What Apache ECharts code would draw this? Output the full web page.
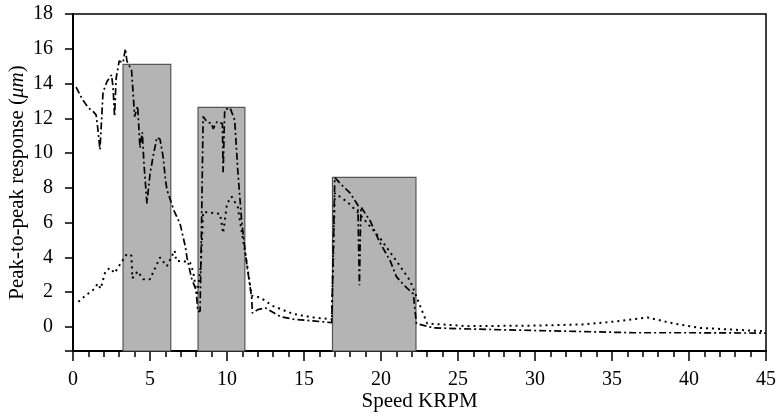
<!DOCTYPE html>
<html><head><meta charset="utf-8">
<script src="https://cdn.jsdelivr.net/npm/echarts@6/dist/echarts.min.js"></script>
<style>html,body{margin:0;padding:0;background:#fff}#c{width:776px;height:420px}</style>
</head><body><div id="c"></div>
<script>
// Speed (KRPM) vs peak-to-peak response (um)
const responseDashDot = [[0.2,13.8],[0.6,13.1],[1.0,12.6],[1.3,12.4],[1.5,12.2],[1.6,11.5],[1.75,10.2],[1.85,11.8],[1.95,13.5],[2.2,14.1],[2.5,14.5],[2.6,13.8],[2.7,12.1],[2.8,14.3],[3.0,15.3],[3.25,15.2],[3.4,16.0],[3.5,15.3],[3.6,15.1],[3.8,14.8],[3.9,13.5],[4.0,12.1],[4.2,12.7],[4.35,10.3],[4.5,11.2],[4.6,9.5],[4.8,7.1],[5.0,8.8],[5.2,9.8],[5.45,10.9],[5.65,10.8],[5.85,9.8],[6.0,8.5],[6.1,7.9],[6.4,7.1],[6.6,6.6],[6.95,5.95],[7.3,4.6],[7.4,4.0],[7.7,2.8],[8.0,2.1],[8.1,0.9],[8.25,0.9],[8.35,6.0],[8.45,12.1],[8.7,11.8],[9.0,11.7],[9.1,11.4],[9.35,11.8],[9.7,11.7],[9.75,8.9],[9.85,12.5],[10.2,12.6],[10.5,11.9],[10.7,9.0],[10.95,6.1],[11.2,4.2],[11.35,3.2],[11.6,1.7],[11.65,0.8],[12.0,1.0],[12.5,1.1],[13.45,0.6],[14.3,0.45],[15.6,0.35],[16.8,0.25],[17.0,8.6],[17.35,8.25],[18.0,7.7],[18.5,7.0],[18.55,4.5],[18.6,2.4],[18.65,5.0],[18.7,6.9],[18.85,6.7],[19.3,6.1],[19.9,4.9],[20.6,3.8],[21.0,2.9],[21.5,2.4],[22.1,1.9],[22.3,0.2],[23.4,-0.05],[26,-0.12],[29.9,-0.2],[33,-0.26],[36.4,-0.33],[40,-0.33],[45,-0.35]];
const responseDotted = [[0.35,1.45],[0.8,1.8],[1.4,2.2],[1.6,2.5],[1.8,2.2],[2.1,3.2],[2.4,3.4],[2.7,3.1],[3.05,3.6],[3.5,4.2],[3.8,4.1],[3.85,2.8],[4.2,3.2],[4.55,2.75],[5.0,2.75],[5.65,4.0],[6.1,3.5],[6.6,4.4],[6.7,3.8],[7.1,3.8],[7.6,3.7],[7.8,3.2],[8.05,1.8],[8.3,3.5],[8.45,6.6],[8.7,6.6],[9.55,6.5],[9.75,5.4],[10.0,7.1],[10.3,7.5],[10.7,6.9],[10.95,5.5],[11.2,4.2],[11.6,1.8],[12.15,1.7],[13.0,1.2],[14.3,0.75],[15.6,0.55],[16.8,0.45],[17.0,7.7],[17.8,7.2],[18.6,6.5],[19.9,5.15],[21.0,3.8],[21.9,2.65],[22.5,1.3],[23.0,0.2],[25.6,0.05],[30,0.08],[33.1,0.15],[35,0.3],[37.3,0.55],[39,0.2],[40.7,-0.05],[45,-0.25]];
// shaded speed bands
const bandStart = [3.25, 8.12, 16.85];
const bandEnd = [6.35, 11.16, 22.27];
const bandTop = [15.1, 12.63, 8.6];
const yMin = -1.38, yMax = 18, xMin = 0, xMax = 45;

const font = '"Liberation Serif", "DejaVu Serif", serif';
const bands = bandStart.map((s, i) => [{xAxis: s, yAxis: yMin}, {xAxis: bandEnd[i], yAxis: bandTop[i]}]);

const chart = echarts.init(document.getElementById('c'), null, {renderer: 'canvas'});
chart.setOption({
  animation: false,
  grid: {left: 73, right: 10, top: 14, bottom: 69, containLabel: false, outerBoundsMode: 'none',
         show: true, borderColor: '#000', borderWidth: 1.5, backgroundColor: 'transparent'},
  xAxis: {
    type: 'value', min: xMin, max: xMax, interval: 5,
    name: 'Speed KRPM', nameLocation: 'middle', nameGap: 40, nameMoveOverlap: false,
    nameTextStyle: {fontFamily: font, fontSize: 21, color: '#000'},
    axisLine: {onZero: false, lineStyle: {color: '#000', width: 2}},
    axisTick: {length: 10, lineStyle: {color: '#000', width: 1.5}},
    minorTick: {show: true, splitNumber: 5, length: 6, lineStyle: {color: '#000', width: 1.5}},
    axisLabel: {fontFamily: font, fontSize: 20, color: '#000', margin: 19},
    splitLine: {show: false}
  },
  yAxis: {
    type: 'value', min: yMin, max: yMax, splitNumber: 10,
    name: '{n|Peak-to-peak response (}{i|μm}{n|)}', nameLocation: 'middle', nameGap: 45, nameMoveOverlap: false,
    nameTextStyle: {rich: {n: {fontFamily: font, fontSize: 21, color: '#000'}, i: {fontFamily: font, fontSize: 21, fontStyle: 'italic', color: '#000'}}},
    axisLine: {lineStyle: {color: '#000', width: 2}},
    axisTick: {length: 8, lineStyle: {color: '#000', width: 1.5}},
    axisLabel: {fontFamily: font, fontSize: 20, color: '#000', margin: 20,
      formatter: v => (Math.abs(v / 2 - Math.round(v / 2)) < 1e-6 ? String(Math.round(v)) : '')},
    splitLine: {show: false}
  },
  series: [
    {type: 'line', data: [], z: 1, silent: true,
     markArea: {silent: true, itemStyle: {color: '#b4b4b4', borderColor: '#555', borderWidth: 1.2}, data: bands}},
    {type: 'line', data: responseDotted, z: 3, symbol: 'none', lineStyle: {color: '#000', width: 2, type: [2, 4]}},
    {type: 'line', data: responseDashDot, z: 4, symbol: 'none', lineStyle: {color: '#000', width: 1.7, type: [7, 3, 2, 3]}}
  ]
});
</script></body></html>
